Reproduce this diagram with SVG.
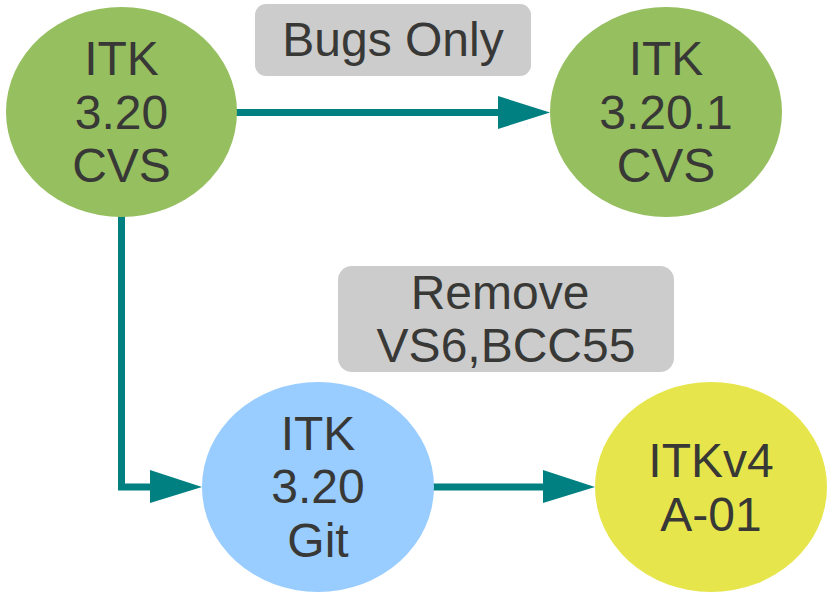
<svg xmlns="http://www.w3.org/2000/svg" width="828" height="600" viewBox="0 0 828 600">
<style>
.t{font-family:"Liberation Sans",Arial,sans-serif;font-size:48px;fill:#383836;text-anchor:middle}
.g{fill:#96bf5f}
.lab{fill:#cccccc}
.c{stroke:#008080;stroke-width:7;fill:none}
.ah{fill:#008080}
</style>
<rect width="828" height="600" fill="#ffffff"/>
<g id="connectors">
<line class="c" x1="236" y1="112.5" x2="500" y2="112.5"/>
<polygon class="ah" points="498,96 550,112.5 498,129"/>
<polyline class="c" points="121.5,216 121.5,487 152,487"/>
<polygon class="ah" points="150,470 202,487 150,503"/>
<line class="c" x1="433" y1="487" x2="545" y2="487"/>
<polygon class="ah" points="543,470 595,487 543,503"/>
</g>
<g id="label-bugs">
<rect class="lab" x="255" y="4" width="276" height="72" rx="11"/>
<text class="t" x="393" y="56">Bugs Only</text>
</g>
<g id="label-remove">
<rect class="lab" x="338" y="266" width="336" height="106" rx="14"/>
<text class="t" x="500" y="309">Remove</text>
<text class="t" x="506" y="362">VS6,BCC55</text>
</g>
<g id="node-itk320cvs">
<ellipse class="g" cx="121.5" cy="112" rx="115.5" ry="105"/>
<text class="t" x="121.5" y="75">ITK</text>
<text class="t" x="121.5" y="129">3.20</text>
<text class="t" x="121.5" y="182">CVS</text>
</g>
<g id="node-itk3201cvs">
<ellipse class="g" cx="666" cy="112" rx="116" ry="105"/>
<text class="t" x="666" y="75">ITK</text>
<text class="t" x="666" y="129">3.20.1</text>
<text class="t" x="666" y="182">CVS</text>
</g>
<g id="node-itk320git">
<ellipse fill="#99ccff" cx="318" cy="487" rx="116" ry="105"/>
<text class="t" x="318" y="450">ITK</text>
<text class="t" x="318" y="503">3.20</text>
<text class="t" x="318" y="557">Git</text>
</g>
<g id="node-itkv4">
<ellipse fill="#e6e64c" cx="711" cy="487" rx="116" ry="105"/>
<text class="t" x="711" y="477">ITKv4</text>
<text class="t" x="711" y="531">A-01</text>
</g>
</svg>
